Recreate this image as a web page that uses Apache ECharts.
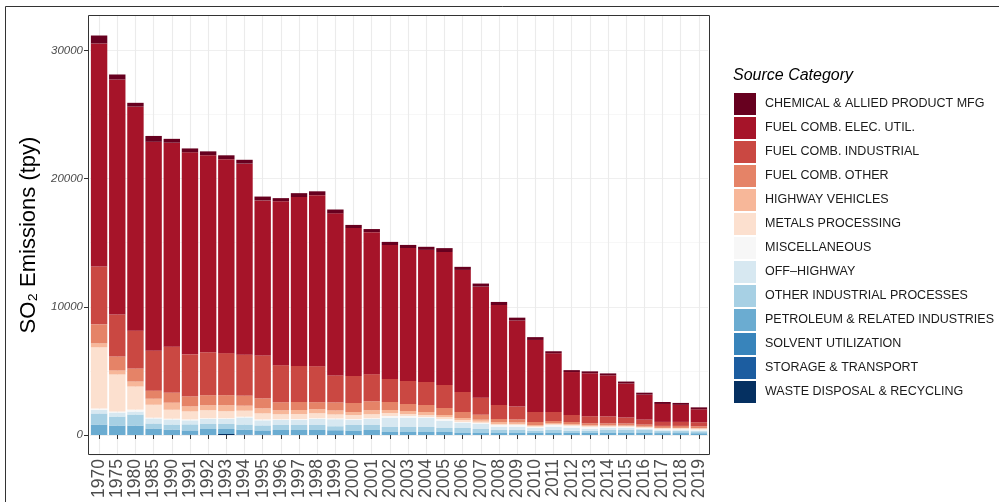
<!DOCTYPE html>
<html>
<head>
<meta charset="utf-8">
<script src="https://cdn.jsdelivr.net/npm/echarts@6/dist/echarts.min.js"></script>
<style>
  html, body { margin: 0; padding: 0; background: #fff; }
  #chart { width: 999px; height: 502px; }
</style>
</head>
<body>
<div id="chart"></div>
<script>
// SO2 emissions by source category (tpy)
const years = ['1970', '1975', '1980', '1985', '1990', '1991', '1992', '1993', '1994', '1995',
  '1996', '1997', '1998', '1999', '2000', '2001', '2002', '2003', '2004', '2005',
  '2006', '2007', '2008', '2009', '2010', '2011', '2012', '2013', '2014', '2015',
  '2016', '2017', '2018', '2019']

const categories = [
  'CHEMICAL & ALLIED PRODUCT MFG',
  'FUEL COMB. ELEC. UTIL.',
  'FUEL COMB. INDUSTRIAL',
  'FUEL COMB. OTHER',
  'HIGHWAY VEHICLES',
  'METALS PROCESSING',
  'MISCELLANEOUS',
  'OFF\u2013HIGHWAY',
  'OTHER INDUSTRIAL PROCESSES',
  'PETROLEUM & RELATED INDUSTRIES',
  'SOLVENT UTILIZATION',
  'STORAGE & TRANSPORT',
  'WASTE DISPOSAL & RECYCLING'
]

const colors = ['#67001F', '#A61429', '#CA4842', '#E58367', '#F7B799', '#FCE0CF', '#F7F7F7',
  '#D7E8F1', '#A7D0E4', '#6BACD1', '#3884BB', '#1C5DA0', '#053061']

const chemical = [620, 390, 300, 456, 300, 300, 300, 300, 300, 300,
  240, 300, 300, 300, 240, 240, 240, 240, 240, 300,
  240, 240, 240, 220, 220, 160, 150, 150, 150, 150,
  150, 150, 150, 150]
const elecUtil = [17390, 18330, 17470, 16300, 15910, 15760, 15370, 15130, 14900, 12090,
  12790, 13180, 13340, 12640, 11540, 11080, 10450, 10370, 10300, 10370,
  9520, 8660, 7800, 6710, 5620, 4580, 3350, 3350, 3200, 2650,
  1950, 1400, 1330, 1010]
const industrial = [4520, 3280, 2960, 3120, 3590, 3280, 3350, 3280, 3200, 3350,
  2890, 2810, 2810, 2110, 2110, 2110, 1800, 1800, 1800, 1800,
  1560, 1330, 1090, 1010, 780, 700, 546, 546, 546, 470,
  390, 312, 312, 312]
const fuelOther = [1480, 1090, 1010, 620, 780, 780, 780, 780, 780, 780,
  624, 624, 546, 624, 700, 700, 624, 546, 546, 546,
  470, 390, 234, 234, 234, 156, 156, 156, 156, 156,
  156, 156, 156, 156]
const highway = [310, 310, 390, 470, 550, 390, 390, 470, 390, 390,
  312, 312, 312, 312, 234, 312, 234, 234, 234, 156,
  156, 156, 156, 120, 78, 78, 78, 60, 50, 40,
  30, 30, 30, 30]
const metals = [4780, 2890, 1800, 1010, 700, 624, 624, 546, 470, 470,
  390, 390, 390, 312, 312, 312, 234, 156, 156, 156,
  156, 100, 78, 78, 78, 78, 78, 78, 78, 78,
  78, 78, 78, 78]
const misc = [100, 80, 150, 60, 60, 78, 60, 60, 60, 78,
  60, 78, 60, 60, 78, 60, 156, 156, 80, 156,
  78, 78, 156, 156, 78, 156, 156, 156, 78, 78,
  78, 70, 70, 70]
const offHighway = [280, 310, 230, 390, 390, 310, 390, 390, 546, 390,
  390, 390, 470, 546, 390, 470, 700, 700, 700, 546,
  390, 390, 234, 234, 234, 234, 234, 156, 156, 156,
  78, 70, 70, 60]
const otherIndustrial = [860, 700, 860, 390, 390, 470, 390, 390, 390, 390,
  390, 390, 390, 312, 470, 390, 390, 390, 390, 312,
  390, 312, 234, 234, 156, 234, 156, 156, 234, 234,
  234, 156, 156, 150]
const petroleum = [820, 740, 740, 510, 430, 310, 470, 390, 390, 310,
  390, 390, 390, 312, 312, 390, 234, 234, 234, 234,
  156, 156, 156, 156, 156, 156, 156, 156, 156, 156,
  156, 150, 150, 140]
const solvent = [0, 0, 0, 0, 0, 50, 0, 0, 0, 50,
  0, 0, 0, 60, 0, 0, 0, 0, 0, 0,
  0, 0, 0, 0, 0, 0, 0, 0, 0, 0,
  0, 0, 0, 0]
const storage = [0, 0, 0, 0, 0, 0, 0, 0, 40, 0,
  0, 0, 0, 0, 0, 0, 0, 0, 0, 0,
  0, 0, 0, 0, 0, 0, 0, 0, 0, 0,
  0, 0, 0, 0]
const waste = [0, 0, 0, 0, 0, 0, 0, 80, 0, 0,
  0, 0, 0, 0, 0, 0, 0, 0, 0, 0,
  0, 0, 0, 0, 0, 0, 0, 0, 0, 0,
  0, 0, 0, 0]

const values = [chemical, elecUtil, industrial, fuelOther, highway, metals, misc,
  offHighway, otherIndustrial, petroleum, solvent, storage, waste]

const yTicks = [0, 10000, 20000, 30000]
const yMin = -1560
const yMax = 32760

const font = '"Liberation Sans", Arial, Helvetica, sans-serif'

// first level goes on top of the stack, like ggplot
const series = []
for (let i = categories.length - 1; i >= 0; i--) {
  series.push({
    name: categories[i],
    type: 'bar',
    stack: 'total',
    barWidth: 16.4,
    yAxisIndex: 0,
    itemStyle: { color: colors[i] },
    emphasis: { disabled: true },
    data: values[i]
  })
}

const chart = echarts.init(document.getElementById('chart'), null, { renderer: 'canvas' })

chart.setOption({
  animation: false,
  backgroundColor: '#ffffff',
  textStyle: { fontFamily: font },
  grid: {
    left: 90, top: 15, width: 618, height: 440,
    containLabel: false, outerBoundsMode: 'none'
  },
  xAxis: {
    type: 'category',
    data: years,
    axisLine: { show: false },
    axisTick: { show: true, alignWithLabel: true, length: 4, lineStyle: { color: '#333333', width: 1 } },
    axisLabel: {
      interval: 0, rotate: 90, margin: 4,
      fontSize: 17.5, color: '#4d4d4d', fontFamily: font
    },
    splitLine: { show: true, alignWithLabel: true, lineStyle: { color: '#ebebeb', width: 1.1 } }
  },
  yAxis: [
    {
      type: 'value',
      min: yMin, max: yMax, splitNumber: 3,
      offset: 2,
      name: 'SO\u2082 Emissions (tpy)',
      nameLocation: 'middle',
      nameRotate: 90,
      nameGap: 47,
      nameTextStyle: { fontSize: 22, color: '#000000', fontFamily: font },
      axisLine: { show: false },
      axisTick: { show: true, customValues: yTicks, length: 4, lineStyle: { color: '#333333' } },
      axisLabel: {
        customValues: yTicks, margin: 5,
        formatter: (v) => String(v),
        fontSize: 11.5, fontStyle: 'italic', color: '#4d4d4d', fontFamily: font
      },
      splitLine: { show: true, lineStyle: { color: '#ebebeb', width: 1.1 } }
    },
    {
      type: 'value',
      min: yMin, max: yMax, splitNumber: 7,
      axisLine: { show: false },
      axisTick: { show: false },
      axisLabel: { show: false },
      splitLine: { show: true, lineStyle: { color: '#f2f2f2', width: 0.6 } }
    }
  ],
  legend: {
    orient: 'vertical',
    left: 734, top: 93,
    padding: 0,
    itemWidth: 22, itemHeight: 22, itemGap: 2,
    icon: 'rect',
    selectedMode: false,
    data: categories,
    textStyle: { fontSize: 12.5, color: '#1a1a1a', fontFamily: font, padding: [0, 0, 0, 4] }
  },
  graphic: [
    {
      type: 'rect', silent: true, z: 100,
      shape: { x: 5.5, y: 6.5, width: 1200, height: 800 },
      style: { fill: 'none', stroke: '#333333', lineWidth: 1 }
    },
    {
      type: 'rect', silent: true, z: 100,
      shape: { x: 88.5, y: 15.5, width: 621, height: 439 },
      style: { fill: 'none', stroke: '#333333', lineWidth: 1 }
    },
    {
      type: 'text', left: 733, top: 68, silent: true,
      style: { text: 'Source Category', fontSize: 16, fontStyle: 'italic', fill: '#000000', fontFamily: font }
    }
  ],
  series: series
})
</script>
</body>
</html>
